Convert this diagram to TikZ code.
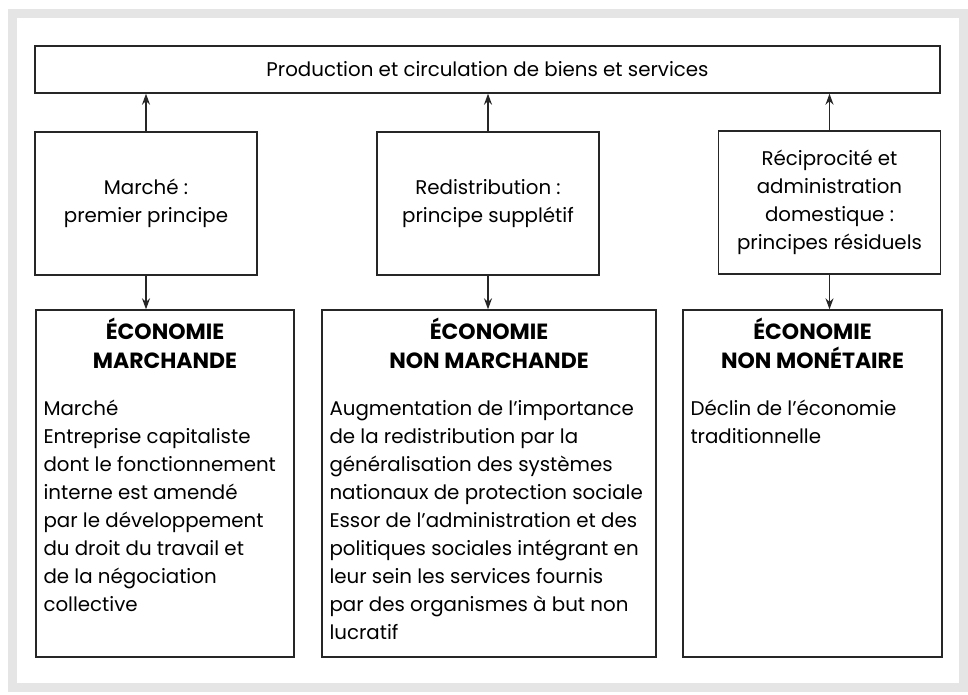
\documentclass[tikz,border=0pt]{standalone}
\usepackage{fontspec}
\setmainfont{Poppins}
\usetikzlibrary{arrows.meta}
\begin{document}
\begin{tikzpicture}[x=1pt,y=-1pt,
  box/.style={draw=black!85, line width=1.4pt, fill=white, inner sep=0pt},
  txt/.style={font=\fontsize{19.8}{28}\selectfont},
  lbl/.style={txt, align=center},
  body/.style={txt, align=left, inner sep=0pt, anchor=north west},
  head/.style={align=center, inner sep=0pt, anchor=north,
    font=\fontsize{22}{29}\selectfont\bfseries},
  flow/.style={draw=black!85, line width=1.3pt,
    -{Stealth[length=11pt,width=8pt]}}]
\useasboundingbox (0,0) rectangle (968,694);
\fill[white] (0,0) rectangle (968,694);
% page frame
\draw[gray!20, line width=9pt] (12,13) rectangle (963,687);

% top row
\node[box, lbl, minimum width=905pt, minimum height=47pt] (top) at (487.5,69.5)
  {Production et circulation de biens et services};

% principles
\node[box, lbl, minimum width=222pt, minimum height=143pt] (m1) at (146,203.5)
  {Marché~:\\premier principe};
\node[box, lbl, minimum width=222pt, minimum height=143pt] (m2) at (488,203.5)
  {Redistribution~:\\principe supplétif};
\node[box, lbl, minimum width=222pt, minimum height=143pt] (m3) at (829.5,202.5)
  {Réciprocité et\\administration\\domestique~:\\principes résiduels};

% economies
\node[box, minimum width=258pt, minimum height=347pt] (b1) at (165,483.5) {};
\node[box, minimum width=334pt, minimum height=347pt] (b2) at (489,483.5) {};
\node[box, minimum width=259pt, minimum height=347pt] (b3) at (812.5,483.5) {};

\node[head] (h1) at ([yshift=-9pt]b1.north) {ÉCONOMIE\\MARCHANDE};
\node[head] (h2) at ([yshift=-9pt]b2.north) {ÉCONOMIE\\NON MARCHANDE};
\node[head] (h3) at ([yshift=-9pt]b3.north) {ÉCONOMIE\\NON MONÉTAIRE};

\node[body] (t1) at ([xshift=8pt,yshift=-91pt]b1.north west)
  {Marché\\Entreprise capitaliste\\dont le fonctionnement\\interne est amendé\\par le développement\\du droit du travail et\\de la négociation\\collective};
\node[body] (t2) at ([xshift=8pt,yshift=-91pt]b2.north west)
  {Augmentation de l’importance\\de la redistribution par la\\généralisation des systèmes\\nationaux de protection sociale\\Essor de l’administration et des\\politiques sociales intégrant en\\leur sein les services fournis\\par des organismes à but non\\lucratif};
\node[body] (t3) at ([xshift=8pt,yshift=-91pt]b3.north west)
  {Déclin de l’économie\\traditionnelle};

% connectors
\foreach \m/\b in {m1/b1, m2/b2, m3/b3} {
  \draw[flow] (\m.north) -- (\m.north |- top.south);
  \draw[flow] (\m.south) -- (\m.south |- \b.north);
}
\end{tikzpicture}
\end{document}
